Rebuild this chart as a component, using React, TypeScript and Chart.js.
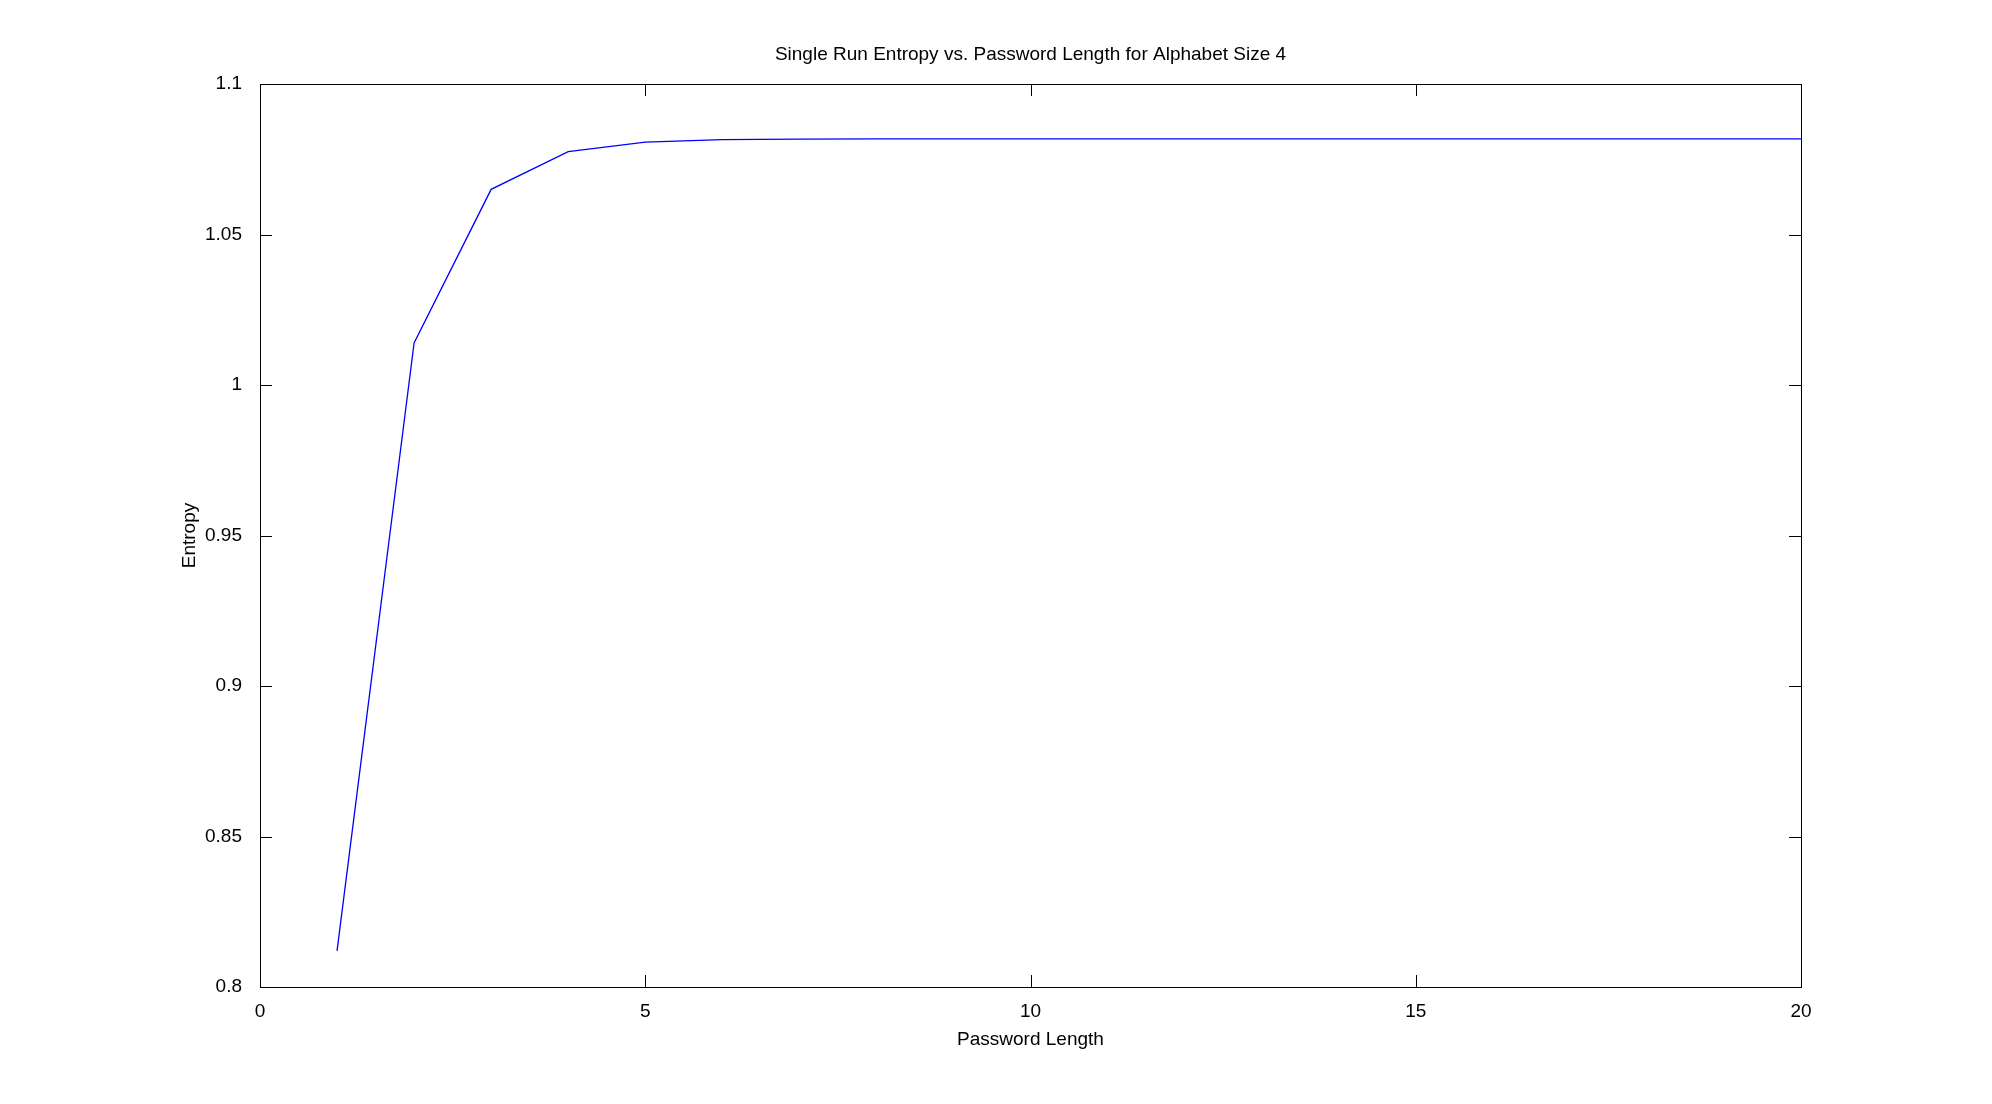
import React, { useEffect, useRef } from 'react';
import Chart from 'chart.js/auto';

const passwordLengths = [1, 2, 3, 4, 5, 6, 7, 8, 9, 10, 11, 12, 13, 14, 15, 16, 17, 18, 19, 20];
const entropyValues = [
  0.812, 1.014, 1.065, 1.0775, 1.0807, 1.0815, 1.0817, 1.0818, 1.0818, 1.0818,
  1.0818, 1.0818, 1.0818, 1.0818, 1.0818, 1.0818, 1.0818, 1.0818, 1.0818, 1.0818,
];
const xTicks = [0, 5, 10, 15, 20];
const yTicks = [0.8, 0.85, 0.9, 0.95, 1, 1.05, 1.1];
const titleText = 'Single Run Entropy vs. Password Length for Alphabet Size 4';
const xTitle = 'Password Length';
const yTitle = 'Entropy';

const FONT = 'Liberation Sans, Arial, sans-serif';

// octave-style box with inward ticks on all four sides, plus title texts
const boxPlugin = {
  id: 'octaveBox',
  afterDraw(chart: any) {
    const { ctx, chartArea: a, scales } = chart;
    ctx.save();
    ctx.strokeStyle = '#000';
    ctx.lineWidth = 1;
    ctx.strokeRect(a.left + 0.5, a.top + 0.5, a.right - a.left, a.bottom - a.top);
    const len = 12;
    ctx.beginPath();
    xTicks.forEach((v) => {
      const x = Math.round(scales.x.getPixelForValue(v)) + 0.5;
      ctx.moveTo(x, a.bottom); ctx.lineTo(x, a.bottom - len);
      ctx.moveTo(x, a.top); ctx.lineTo(x, a.top + len);
    });
    yTicks.forEach((v) => {
      const y = Math.round(scales.y.getPixelForValue(v)) + 0.5;
      ctx.moveTo(a.left, y); ctx.lineTo(a.left + len, y);
      ctx.moveTo(a.right, y); ctx.lineTo(a.right - len, y);
    });
    ctx.stroke();
    ctx.fillStyle = '#000';
    ctx.font = `19px ${FONT}`;
    ctx.textAlign = 'center';
    ctx.textBaseline = 'middle';
    const cx = (a.left + a.right) / 2;
    ctx.fillText(titleText, cx, 55);
    ctx.fillText(xTitle, cx, 1040);
    ctx.translate(190, (a.top + a.bottom) / 2);
    ctx.rotate(-Math.PI / 2);
    ctx.fillText(yTitle, 0, 0);
    ctx.restore();
  },
};

const App: React.FC = () => {
  const canvasRef = useRef<HTMLCanvasElement>(null);
  const chartRef = useRef<Chart | null>(null);

  useEffect(() => {
    document.body.style.margin = '0';
    if (!canvasRef.current) return;
    if (chartRef.current) chartRef.current.destroy();

    chartRef.current = new Chart(canvasRef.current, {
      type: 'line',
      data: {
        datasets: [{
          data: passwordLengths.map((x, i) => ({ x, y: entropyValues[i] })),
          borderColor: '#0000ff',
          borderWidth: 1.3,
          pointRadius: 0,
          tension: 0,
        }],
      },
      options: {
        animation: false,
        responsive: false,
        layout: { padding: { top: 84, right: 191, left: 0, bottom: 0 } },
        plugins: { legend: { display: false }, tooltip: { enabled: false } },
        scales: {
          x: {
            type: 'linear', min: 0, max: 20,
            afterBuildTicks: (s: any) => { s.ticks = xTicks.map((v) => ({ value: v })); },
            afterFit: (s: any) => { s.height = 117; },
            grid: { display: false },
            border: { display: false },
            ticks: { color: '#000', font: { family: FONT, size: 19 }, padding: 5, maxRotation: 0 },
          },
          y: {
            type: 'linear', min: 0.8, max: 1.1,
            afterBuildTicks: (s: any) => { s.ticks = yTicks.map((v) => ({ value: v })); },
            afterFit: (s: any) => { s.width = 260; },
            grid: { display: false },
            border: { display: false },
            ticks: { color: '#000', font: { family: FONT, size: 19 }, padding: 10, callback: (v: any) => String(Number(v)) },
          },
        },
      },
      plugins: [boxPlugin],
    } as any);

    return () => {
      if (chartRef.current) { chartRef.current.destroy(); chartRef.current = null; }
    };
  }, []);

  return (
    <div style={{ width: 1992, height: 1104, background: '#fff' }}>
      <canvas ref={canvasRef} width={1992} height={1104}></canvas>
    </div>
  );
};

export default App;
